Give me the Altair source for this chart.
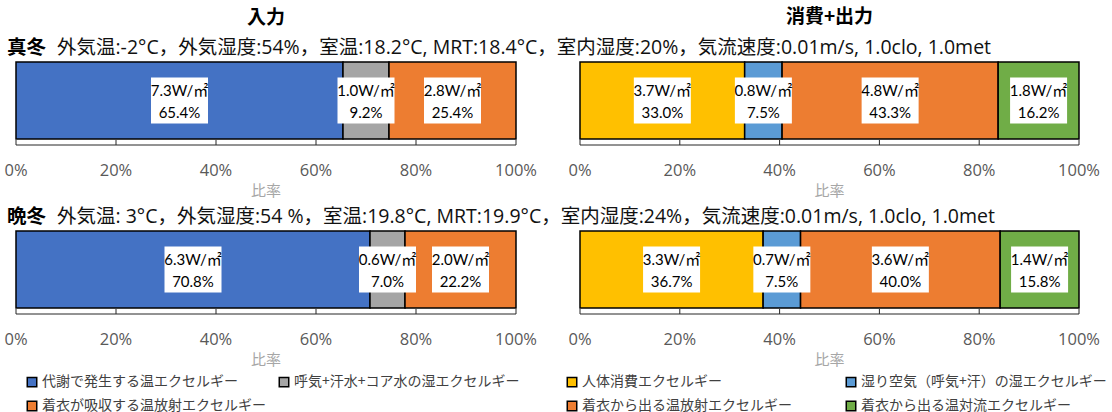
import altair as alt
import pandas as pd

CJK = "Noto Sans CJK JP"
NUM = "Lato, Noto Sans CJK JP"
SUB = "Open Sans, Noto Sans CJK JP"

# ---- data ----
in_categories = ["代謝で発生する温エクセルギー", "呼気+汗水+コア水の湿エクセルギー", "着衣が吸収する温放射エクセルギー"]
in_colors = ["#4472C4", "#A5A5A5", "#ED7D31"]
out_categories = ["人体消費エクセルギー", "湿り空気（呼気+汗）の湿エクセルギー", "着衣から出る温放射エクセルギー", "着衣から出る温対流エクセルギー"]
out_colors = ["#FFC000", "#5B9BD5", "#ED7D31", "#70AD47"]

mafuyu_in_w = [7.3, 1.0, 2.8]
mafuyu_in_pct = [65.4, 9.2, 25.4]
mafuyu_out_w = [3.7, 0.8, 4.8, 1.8]
mafuyu_out_pct = [33.0, 7.5, 43.3, 16.2]
banto_in_w = [6.3, 0.6, 2.0]
banto_in_pct = [70.8, 7.0, 22.2]
banto_out_w = [3.3, 0.7, 3.6, 1.4]
banto_out_pct = [36.7, 7.5, 40.0, 15.8]

tick_values = [0, 20, 40, 60, 80, 100]
tick_labels = ["0%", "20%", "40%", "60%", "80%", "100%"]
panel_titles = ["入力", "消費+出力"]
season_names = ["真冬", "晩冬"]
conditions = [
    "外気温:-2°C，外気湿度:54%，室温:18.2°C, MRT:18.4°C，室内湿度:20%，気流速度:0.01m/s, 1.0clo, 1.0met",
    "外気温: 3°C，外気湿度:54 %，室温:19.8°C, MRT:19.9°C，室内湿度:24%，気流速度:0.01m/s, 1.0clo, 1.0met",
]
x_title = "比率"

W_L, W_R, H = 500, 499, 77


def panel(cats, colors, w_vals, pct_vals, width, title=None, title_offset=0,
          season=None, cond=None, legend_pos=None, col_pad=20):
    df = pd.DataFrame({"category": cats, "w": w_vals, "pct": pct_vals,
                       "order": list(range(len(cats)))})
    df["end"] = df["pct"].cumsum()
    df["start"] = df["end"] - df["pct"]
    df["mid"] = (df["start"] + df["end"]) / 2
    df["wlabel"] = df["w"].map(lambda v: f"{v:.1f}W/㎡")
    df["plabel"] = df["pct"].map(lambda v: f"{v:.1f}%")

    xscale = alt.Scale(domain=[0, 100], nice=False, zero=True)
    if legend_pos is None:
        legend = None
    else:
        legend = alt.Legend(orient="none", legendX=legend_pos[0], legendY=legend_pos[1],
                            direction="horizontal", columns=2, symbolType="square",
                            symbolSize=90, symbolStrokeColor="black",
                            symbolStrokeWidth=1.5, symbolOpacity=1, labelFont=CJK,
                            labelFontSize=14, labelColor="#404040",
                            columnPadding=col_pad, rowPadding=8, labelOffset=3,
                            title=None, labelLimit=0, padding=0)
    base = alt.Chart(df)
    bars = base.mark_rect(stroke="black", strokeWidth=1.5).encode(
        x=alt.X("start:Q", scale=xscale, axis=None),
        x2="end:Q",
        color=alt.Color("category:N", scale=alt.Scale(domain=cats, range=colors),
                        legend=legend),
    )
    tdf = pd.DataFrame({"t": tick_values, "label": tick_labels})
    tbase = alt.Chart(tdf)
    ticks = tbase.mark_rule(color="#262626", strokeWidth=1).encode(
        x=alt.X("t:Q", scale=xscale, axis=None),
        y=alt.value(H + 1), y2=alt.value(H + 6))
    ddf = pd.DataFrame({"lo": [tick_values[0]], "hi": [tick_values[-1]]})
    domain = alt.Chart(ddf).mark_rule(color="#262626", strokeWidth=1).encode(
        x=alt.X("lo:Q", scale=xscale, axis=None), x2="hi:Q",
        y=alt.value(H + 6))
    tlabels = tbase.mark_text(font="Open Sans", fontSize=16.5, color="#595959",
                              baseline="middle").encode(
        x=alt.X("t:Q", scale=xscale, axis=None), y=alt.value(H + 32),
        text="label:N")
    ttl = alt.Chart(pd.DataFrame({"title": [x_title]})).mark_text(
        font=CJK, fontSize=15, color="#A6A6A6", baseline="middle").encode(
        x=alt.value(width / 2), y=alt.value(H + 52), text="title:N")
    boxes = base.mark_point(shape="M-1,-0.81H1V0.81H-1Z", filled=True, fill="white",
                            opacity=1, size=3249, strokeWidth=0).encode(
        x=alt.X("mid:Q", scale=xscale, axis=None))
    t1 = base.mark_text(font=NUM, fontSize=15, color="black", dy=-10,
                        baseline="middle").encode(
        x=alt.X("mid:Q", scale=xscale, axis=None), text="wlabel:N")
    t2 = base.mark_text(font=NUM, fontSize=15, color="black", dy=12,
                        baseline="middle").encode(
        x=alt.X("mid:Q", scale=xscale, axis=None), text="plabel:N")
    layers = [bars, ticks, domain, tlabels, ttl, boxes, t1, t2]
    if season is not None:
        sdf = pd.DataFrame({"season": [season], "cond": [cond]})
        s1 = alt.Chart(sdf).mark_text(font=CJK, fontSize=19.5, fontWeight="bold",
                                      align="left", baseline="middle",
                                      color="black").encode(
            text="season:N", x=alt.value(-9), y=alt.value(-14))
        s2 = alt.Chart(sdf).mark_text(font=SUB, fontSize=19.5, align="left",
                                      baseline="middle", color="#111111").encode(
            text="cond:N", x=alt.value(41), y=alt.value(-14))
        layers += [s1, s2]
    ch = alt.layer(*layers).properties(width=width, height=H)
    if title is not None:
        ch = ch.properties(title=alt.TitleParams(title, frame="group", anchor="middle",
                                                 fontSize=19, font=CJK,
                                                 fontWeight="bold", color="black",
                                                 baseline="bottom", offset=title_offset))
    return ch


p11 = panel(in_categories, in_colors, mafuyu_in_w, mafuyu_in_pct, W_L,
            title=panel_titles[0], title_offset=-9, season=season_names[0],
            cond=conditions[0])
p12 = panel(out_categories, out_colors, mafuyu_out_w, mafuyu_out_pct, W_R,
            title=panel_titles[1], title_offset=15)
p21 = panel(in_categories, in_colors, banto_in_w, banto_in_pct, W_L,
            season=season_names[1], cond=conditions[1], legend_pos=(9, 144),
            col_pad=10)
p22 = panel(out_categories, out_colors, banto_out_w, banto_out_pct, W_R,
            legend_pos=(-15, 144), col_pad=51)

row1 = alt.hconcat(p11, p12, spacing=64, bounds="flush").resolve_scale(
    color="independent", x="independent")
row2 = alt.hconcat(p21, p22, spacing=64, bounds="flush").resolve_scale(
    color="independent", x="independent")

chart = alt.vconcat(row1, row2, spacing=169, bounds="flush").resolve_scale(
    color="independent", x="independent").properties(
    padding={"left": 4, "top": 8, "right": 0, "bottom": 0}
).configure_view(strokeWidth=0)

chart.save("out.html", embed_options={"renderer": "svg", "actions": False})
